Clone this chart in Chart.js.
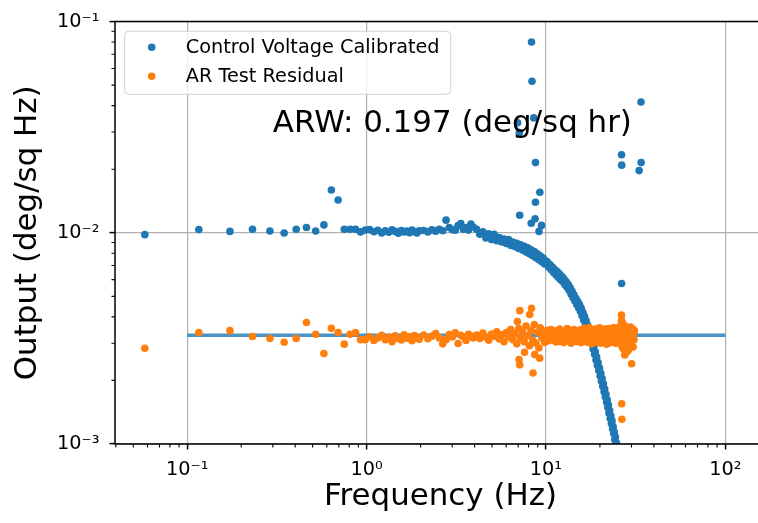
<!DOCTYPE html>
<html>
<head>
<meta charset="utf-8">
<script src="https://cdn.jsdelivr.net/npm/chart.js@4.4.1/dist/chart.umd.min.js"></script>
<style>
  html, body { margin: 0; padding: 0; background: #fff; overflow: hidden; width: 758px; height: 523px; }
  #wrap { width: 780px; height: 523px; }
</style>
</head>
<body>
<div id="wrap"><canvas id="psd" width="780" height="523"></canvas></div>
<script>
// FFT bins (Hz), thinned out above 4 Hz
const freqHz = [
  0.058, 0.116, 0.173, 0.231, 0.289, 0.347, 0.405, 0.462, 0.520, 0.578, 0.636, 0.694, 0.751, 0.809, 0.867, 0.925, 0.983,
  1.040, 1.098, 1.156, 1.214, 1.272, 1.329, 1.387, 1.445, 1.503, 1.561, 1.618, 1.676, 1.734, 1.792, 1.850, 1.907, 1.965,
  2.081, 2.196, 2.312, 2.428, 2.543, 2.659, 2.774, 2.890, 3.006, 3.121, 3.237, 3.352, 3.468, 3.584, 3.699, 3.815, 3.930,
  4.104, 4.277, 4.451, 4.624, 4.797, 4.971, 5.144, 5.318, 5.491, 5.664, 5.838, 6.011, 6.185, 6.358, 6.531, 6.705, 6.878,
  7.052, 7.225, 7.398, 7.572, 7.745, 7.919, 8.092, 8.265, 8.439, 8.612, 8.786, 8.959, 9.132, 9.306, 9.479, 9.653, 9.826, 9.999,
  10.173, 10.346, 10.520, 10.693, 10.866, 11.040, 11.213, 11.387, 11.560, 11.733, 11.907, 12.080, 12.254, 12.427, 12.600,
  12.774, 12.947, 13.121, 13.294, 13.467, 13.641, 13.814, 13.988, 14.161, 14.334, 14.508, 14.681, 14.855, 15.028, 15.201,
  15.375, 15.548, 15.722, 15.895, 16.068, 16.242, 16.415, 16.589, 16.762, 16.935, 17.109, 17.282, 17.456, 17.629, 17.802,
  17.976, 18.149, 18.323, 18.496, 18.669, 18.843, 19.016, 19.190, 19.363, 19.536, 19.710, 19.883, 20.057, 20.230, 20.403,
  20.577, 20.750, 20.924, 21.097, 21.270, 21.444, 21.617, 21.791, 21.964, 22.137, 22.311, 22.484, 22.658, 22.831, 23.004,
  23.178, 23.351, 23.525, 23.698, 23.871, 24.045, 24.218, 24.392, 24.565, 24.738, 24.912,
  25.085, 25.259, 25.432, 25.605, 25.779, 25.952, 26.126, 26.299, 26.472, 26.646, 26.819, 26.993, 27.166, 27.339, 27.513,
  27.686, 27.860, 28.033, 28.206, 28.380, 28.553, 28.727, 28.900, 29.073, 29.247, 29.420, 29.594, 29.767, 29.940, 30.114,
  30.287, 30.461, 30.634, 30.807, 30.981, 31.154
];

// Control Voltage Calibrated (stops at 24.9 Hz, the rest is below 1e-3)
const controlPsd = [
  0.00980, 0.01037, 0.01015, 0.01040, 0.01020, 0.00997, 0.01040, 0.01060, 0.01020, 0.01090, 0.01594, 0.01430, 0.01040, 0.01040, 0.01040, 0.01010, 0.01030,
  0.01035, 0.01012, 0.01028, 0.00998, 0.01021, 0.01006, 0.01032, 0.01015, 0.00995, 0.01024, 0.01008, 0.01019, 0.01001, 0.01030, 0.01012, 0.00997, 0.01022,
  0.01025, 0.01010, 0.01032, 0.01018, 0.01040, 0.01022, 0.01148, 0.01060, 0.01035, 0.01028, 0.01082, 0.01105, 0.01040, 0.01060, 0.01030, 0.01100, 0.01065,
  0.01040, 0.00985, 0.01010, 0.00945, 0.00990, 0.00930, 0.00985, 0.00918, 0.00950, 0.00905, 0.00935, 0.00890, 0.00928, 0.00872, 0.00905, 0.00860, 0.00892,
  0.00842, 0.00878, 0.00830, 0.00862, 0.00812, 0.00848, 0.00795, 0.00830, 0.00778, 0.00815, 0.00762, 0.00795, 0.00745, 0.00775, 0.00730, 0.00760, 0.00712, 0.00735,
  0.00728, 0.00688, 0.00708, 0.00668, 0.00688, 0.00648, 0.00670, 0.00632, 0.00655, 0.00615, 0.00638, 0.00600, 0.00622, 0.00586, 0.00605,
  0.00568, 0.00588, 0.00552, 0.00570, 0.00534, 0.00550, 0.00512, 0.00528, 0.00492, 0.00508, 0.00475, 0.00490, 0.00458, 0.00474, 0.00442,
  0.00458, 0.00425, 0.00440, 0.00405, 0.00420, 0.00386, 0.00402, 0.00370, 0.00383, 0.00352, 0.00364, 0.00333, 0.00346, 0.00315, 0.00327,
  0.00298, 0.00308, 0.00282, 0.00290, 0.00266, 0.00273, 0.00250, 0.00258, 0.00236, 0.00243, 0.00223, 0.00229, 0.00210, 0.00216, 0.00198,
  0.00204, 0.00187, 0.00193, 0.00177, 0.00182, 0.00167, 0.00172, 0.00158, 0.00162, 0.00149, 0.00153, 0.00140, 0.00144, 0.00132, 0.00136,
  0.00125, 0.00129, 0.00118, 0.00121, 0.00112, 0.00114, 0.00105, 0.00108, 0.00099, 0.00101, 0.00094
];

// AR Test Residual
const residualPsd = [
  0.00284, 0.00337, 0.00344, 0.00323, 0.00316, 0.00303, 0.00316, 0.00376, 0.00331, 0.00268, 0.00353, 0.00337, 0.00297, 0.00331, 0.00337, 0.00312, 0.00312,
  0.00322, 0.00309, 0.00318, 0.00327, 0.00312, 0.00320, 0.00305, 0.00325, 0.00316, 0.00311, 0.00329, 0.00317, 0.00322, 0.00308, 0.00326, 0.00319, 0.00313,
  0.00328, 0.00315, 0.00324, 0.00333, 0.00318, 0.00298, 0.00312, 0.00330, 0.00321, 0.00336, 0.00299, 0.00327, 0.00322, 0.00309, 0.00331, 0.00324, 0.00318,
  0.00328, 0.00316, 0.00335, 0.00321, 0.00310, 0.00332, 0.00324, 0.00340, 0.00314, 0.00329, 0.00305, 0.00337, 0.00322, 0.00348, 0.00312, 0.00333, 0.00298,
  0.00352, 0.00318, 0.00340, 0.00305, 0.00362, 0.00326, 0.00292, 0.00345, 0.00310, 0.00368, 0.00300, 0.00338, 0.00285, 0.00355, 0.00318, 0.00342, 0.00302, 0.00330,
  0.00345, 0.00308, 0.00330, 0.00348, 0.00312, 0.00325, 0.00343, 0.00304, 0.00335, 0.00318, 0.00350, 0.00306, 0.00328, 0.00340, 0.00302,
  0.00333, 0.00316, 0.00352, 0.00310, 0.00326, 0.00344, 0.00300, 0.00336, 0.00315, 0.00348, 0.00308, 0.00330, 0.00342, 0.00305, 0.00325,
  0.00346, 0.00313, 0.00302, 0.00340, 0.00322, 0.00353, 0.00306, 0.00332, 0.00316, 0.00345, 0.00303, 0.00330, 0.00356, 0.00311, 0.00336,
  0.00298, 0.00342, 0.00318, 0.00348, 0.00307, 0.00328, 0.00350, 0.00303, 0.00324, 0.00340, 0.00312, 0.00355, 0.00316, 0.00300, 0.00336,
  0.00320, 0.00346, 0.00306, 0.00332, 0.00350, 0.00310, 0.00327, 0.00297, 0.00342, 0.00315, 0.00352, 0.00309, 0.00336, 0.00322, 0.00302,
  0.00347, 0.00318, 0.00338, 0.00305, 0.00356, 0.00312, 0.00328, 0.00344, 0.00300, 0.00324, 0.00349,
  0.00318, 0.00348, 0.00302, 0.00358, 0.00310, 0.00335, 0.00365, 0.00295, 0.00342, 0.00288, 0.00372, 0.00312, 0.00280, 0.00350, 0.00322,
  0.00300, 0.00360, 0.00272, 0.00338, 0.00308, 0.00355, 0.00292, 0.00328, 0.00346, 0.00284, 0.00316, 0.00358, 0.00304, 0.00342, 0.00294,
  0.00326, 0.00350, 0.00288, 0.00334, 0.00312, 0.00344
];

// isolated spikes
const controlSpikeFreq = [8.31, 8.36, 8.55, 6.95, 7.10, 8.74, 9.25, 8.74, 7.14, 8.28, 8.70, 9.45, 9.15, 26.40, 26.45, 33.90, 33.95, 33.10, 26.42];
const controlSpikePsd = [0.0800, 0.0522, 0.0350, 0.0332, 0.0298, 0.0215, 0.01555, 0.01395, 0.0121, 0.0111, 0.01164, 0.01084, 0.01015, 0.0234, 0.0209, 0.0416, 0.0215, 0.0197, 0.00575];
const residualSpikeFreq = [6.93, 7.15, 8.12, 8.31, 7.08, 7.14, 8.47, 9.23, 8.66, 7.60, 26.38, 26.45, 26.52, 26.40, 27.50, 28.60, 30.05, 26.90];
const residualSpikePsd = [0.00380, 0.00428, 0.00410, 0.00439, 0.00251, 0.00237, 0.00217, 0.00255, 0.00265, 0.00272, 0.00408, 0.00155, 0.00131, 0.00385, 0.00264, 0.00276, 0.00240, 0.00370];

// ARW level line
const fitFreq = [0.1, 100];
const fitLevel = [0.00327, 0.00327];

const xTickValues = [0.1, 1, 10, 100];
const xTickLabels = ["10⁻¹", "10⁰", "10¹", "10²"];
const yTickValues = [0.001, 0.01, 0.1];
const yTickLabels = ["10⁻³", "10⁻²", "10⁻¹"];
const seriesNames = ["Control Voltage Calibrated", "AR Test Residual"];
const arwNote = "ARW: 0.197 (deg/sq hr)";
const arwNoteAt = [0.3, 0.03];

const BLUE = "#1f77b4";
const ORANGE = "#ff7f0e";
const FONT = "'DejaVu Sans', sans-serif";
const DOT = 3.8;

function toPoints(xs, ys) {
  const pts = [];
  xs.forEach((x, i) => {
    if (ys[i] != null) pts.push({ x: x, y: ys[i] });
  });
  return pts;
}

// minor ticks, frame, note and legend
const extrasPlugin = {
  id: "extras",
  afterDatasetsDraw(chart) {
    const { ctx, chartArea: a, scales: { x, y } } = chart;
    ctx.save();
    // note text
    ctx.fillStyle = "#000";
    ctx.font = "30.9px " + FONT;
    ctx.textAlign = "left";
    ctx.textBaseline = "alphabetic";
    ctx.fillText(arwNote, x.getPixelForValue(arwNoteAt[0]), y.getPixelForValue(arwNoteAt[1]));

    // frame (the right spine falls outside the picture)
    ctx.strokeStyle = "#000";
    ctx.lineWidth = 1.5;
    ctx.beginPath();
    ctx.moveTo(a.right, a.top);
    ctx.lineTo(a.left, a.top);
    ctx.lineTo(a.left, a.bottom);
    ctx.lineTo(a.right, a.bottom);
    ctx.stroke();

    // minor ticks
    ctx.lineWidth = 1.1;
    ctx.beginPath();
    for (let d = 0.01; d < 1000; d *= 10) {
      for (let m = 2; m <= 9; m++) {
        const px = x.getPixelForValue(m * d);
        if (px > a.left && px < a.right) {
          ctx.moveTo(px, a.bottom);
          ctx.lineTo(px, a.bottom + 3.5);
        }
      }
    }
    for (let d = 0.001; d < 0.1; d *= 10) {
      for (let m = 2; m <= 9; m++) {
        const py = y.getPixelForValue(m * d);
        if (py > a.top && py < a.bottom) {
          ctx.moveTo(a.left, py);
          ctx.lineTo(a.left - 3.5, py);
        }
      }
    }
    ctx.stroke();

    // legend
    const bx = a.left + 9.7, by = a.top + 9.7, bw = 326, bh = 63, r = 4;
    ctx.beginPath();
    ctx.moveTo(bx + r, by);
    ctx.arcTo(bx + bw, by, bx + bw, by + bh, r);
    ctx.arcTo(bx + bw, by + bh, bx, by + bh, r);
    ctx.arcTo(bx, by + bh, bx, by, r);
    ctx.arcTo(bx, by, bx + bw, by, r);
    ctx.closePath();
    ctx.fillStyle = "rgba(255,255,255,0.8)";
    ctx.fill();
    ctx.strokeStyle = "#d0d0d0";
    ctx.lineWidth = 1;
    ctx.stroke();
    ctx.font = "19.3px " + FONT;
    ctx.textBaseline = "middle";
    chart.data.datasets.slice(0, 2).forEach((ds, i) => {
      const cy = by + 16 + i * 29;
      ctx.fillStyle = ds.backgroundColor;
      ctx.beginPath();
      ctx.arc(bx + 27, cy, DOT, 0, Math.PI * 2);
      ctx.fill();
      ctx.fillStyle = "#000";
      ctx.fillText(ds.label, bx + 61, cy + 1);
    });
    ctx.restore();
  },
};

Chart.defaults.font.family = FONT;
Chart.defaults.color = "#000";

new Chart(document.getElementById("psd"), {
  type: "scatter",
  data: {
    datasets: [
      {
        label: seriesNames[0],
        data: toPoints(freqHz, controlPsd).concat(toPoints(controlSpikeFreq, controlSpikePsd)),
        backgroundColor: BLUE,
        pointRadius: DOT,
        pointBorderWidth: 0,
        order: 1,
      },
      {
        label: seriesNames[1],
        data: toPoints(freqHz, residualPsd).concat(toPoints(residualSpikeFreq, residualSpikePsd)),
        backgroundColor: ORANGE,
        pointRadius: DOT,
        pointBorderWidth: 0,
        order: 0,
      },
      {
        label: "ARW level",
        type: "line",
        data: toPoints(fitFreq, fitLevel),
        borderColor: "rgba(31,119,180,0.8)",
        borderWidth: 3.5,
        pointRadius: 0,
        order: 2,
      },
    ],
  },
  options: {
    responsive: false,
    animation: false,
    layout: { padding: { top: 19.5, right: 14, left: 0, bottom: 0 } },
    plugins: { legend: { display: false }, tooltip: { enabled: false } },
    scales: {
      x: {
        type: "logarithmic",
        min: 0.03954,
        max: 168.7,
        afterBuildTicks: (s) => { s.ticks = xTickValues.map((v) => ({ value: v })); },
        afterFit: (s) => { s.height = 79; },
        ticks: {
          callback: (v) => xTickLabels[xTickValues.indexOf(v)],
          font: { size: 19.3 },
          padding: 9,
          maxRotation: 0,
          autoSkip: false,
        },
        grid: { color: "#b0b0b0", lineWidth: 1.2, tickLength: 5.5, tickColor: "#000", tickWidth: 1.5 },
        border: { display: false },
        title: { display: true, text: "Frequency (Hz)", font: { size: 30.9 }, padding: { top: 0, bottom: 7 } },
      },
      y: {
        type: "logarithmic",
        min: 0.001,
        max: 0.1,
        afterBuildTicks: (s) => { s.ticks = yTickValues.map((v) => ({ value: v })); },
        afterFit: (s) => { s.width = 115; },
        ticks: {
          callback: (v) => yTickLabels[yTickValues.indexOf(v)],
          font: { size: 19.3 },
          padding: 10,
          autoSkip: false,
        },
        grid: { color: "#b0b0b0", lineWidth: 1.2, tickLength: 5.5, tickColor: "#000", tickWidth: 1.5 },
        border: { display: false },
        title: { display: true, text: "Output (deg/sq Hz)", font: { size: 30.9 }, padding: { top: 9, bottom: 0 } },
      },
    },
  },
  plugins: [extrasPlugin],
});
</script>
</body>
</html>
